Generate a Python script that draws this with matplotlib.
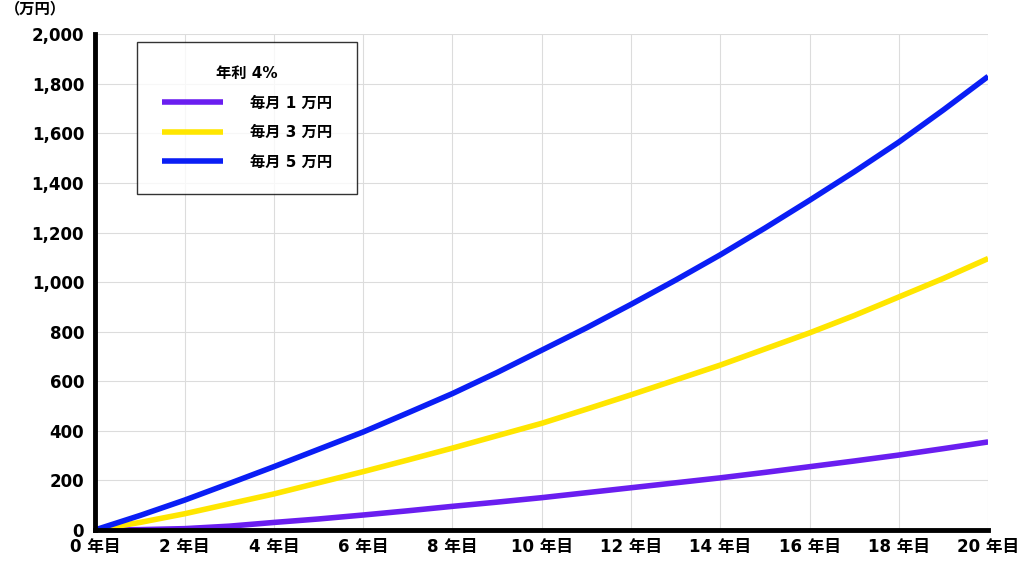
import numpy as np
import matplotlib.pyplot as plt

plt.rcParams['font.family'] = ['DejaVu Sans', 'Noto Sans CJK JP']

years = list(range(0, 21))
y1 = [0, 1, 5, 15, 30, 44, 60, 77, 95, 112, 130, 150, 170, 190, 210, 232, 255, 278, 302, 328, 355]
y3 = [0, 30, 65, 105, 145, 190, 235, 282, 330, 380, 430, 487, 545, 605, 665, 730, 795, 865, 940, 1015, 1095]
y5 = [0, 58, 120, 187, 255, 325, 395, 472, 550, 635, 725, 815, 910, 1008, 1110, 1218, 1330, 1445, 1565, 1695, 1830]
series = [("毎月 1 万円", y1, "#6a1ef0"), ("毎月 3 万円", y3, "#ffe600"), ("毎月 5 万円", y5, "#0a1ef5")]
xticks = list(range(0, 21, 2))
xlabels = [f"{v} 年目" for v in xticks]
yticks = list(range(0, 2001, 200))

fig = plt.figure(figsize=(10.24, 5.71), dpi=100)
ax = fig.add_axes([0.093, 0.072, 0.872, 0.868])

for name, vals, c in series:
    ax.plot(years, vals, color=c, lw=4, label=name, solid_capstyle='butt')

ax.set_xlim(0, 20)
ax.set_ylim(0, 2000)
ax.set_xticks(xticks, xlabels)
ax.set_yticks(yticks, [f"{v:,}" for v in yticks])
ax.grid(True, which='major', color='#dcdcdc', lw=0.8)
ax.tick_params(which='both', length=0)
ax.tick_params(axis='x', labelsize=12, pad=6)
ax.tick_params(axis='y', labelsize=12, pad=8)
for lab in ax.get_xticklabels() + ax.get_yticklabels():
    lab.set_fontweight('bold')
for s in ['top', 'right']:
    ax.spines[s].set_visible(False)
ax.spines['left'].set_linewidth(3.5)
ax.spines['bottom'].set_linewidth(3.5)

fig.text(0.005, 0.985, "（万円）", fontsize=11, fontweight='bold', va='center')

leg = ax.legend(title="年利 4%", loc='upper left', bbox_to_anchor=(0.047, 0.985),
                frameon=True, fancybox=False, edgecolor='black', fontsize=11,
                title_fontsize=11, borderpad=1.6, labelspacing=0.95,
                handlelength=4, handletextpad=1.8, borderaxespad=0)
leg.get_title().set_fontweight('bold')
leg._legend_box.align = 'center'
for t in leg.get_texts():
    t.set_fontweight('bold')
leg.get_frame().set_linewidth(1)

fig.savefig("out.png", dpi=100)
